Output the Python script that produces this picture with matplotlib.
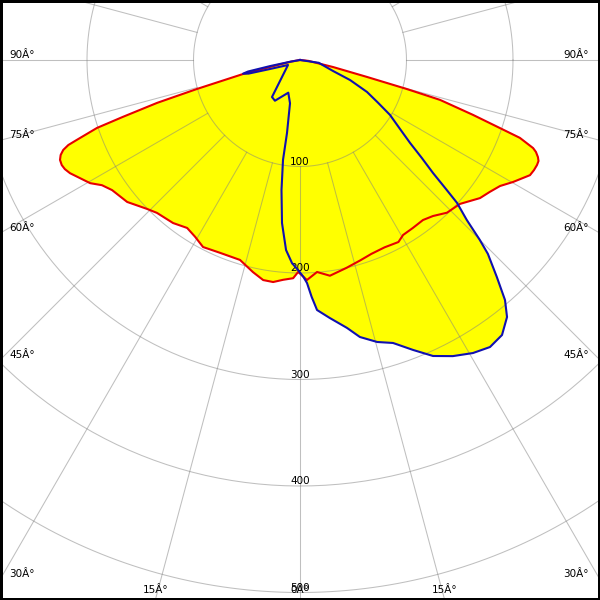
import matplotlib
matplotlib.use("Agg")
import matplotlib.pyplot as plt
import numpy as np

# red plane: gamma (deg, negative = left side) and intensity (cd/klm)
red_gamma = [-90, -80, -77, -76.2, -74.3, -73.3, -72.2, -71.5, -70.3, -69.85,
             -69.2, -68.35, -67.4, -66.2, -65.1, -63.8, -59.6, -57.7, -55.3,
             -50.6, -45.8, -43.1, -37.9, -33.9, -30.7, -27.4, -22.5, -16.7,
             -12.5, -9.5, -6.9, -4.4, -1.8, -0.5, 1.8, 4.6, 7.9, 12.6, 16.7,
             20.2, 24.3, 28.4, 30.5, 33.9, 37.55, 40.45, 43.9, 48.0, 52.5,
             55.2, 57.8, 60.2, 63.4, 64.8, 66.1, 67.05, 67.8, 68.7, 69.3,
             70.5, 71.2, 72.4, 74.1, 74.8, 75.8, 78, 84, 90]
red_cd = [0, 8, 29, 55, 100.5, 140, 174.6, 201, 222.7, 231.7,
          237.8, 241.8, 244.1, 244.5, 243.4, 240.7, 228.5, 220, 214.6,
          210, 200.5, 196.6, 194, 190, 193, 197.8, 196, 196,
          204, 209.5, 210, 207, 205, 199, 206.7, 199.7, 204.5, 200, 196.5,
          194, 193, 194.3, 190.7, 190, 189.5, 192.5, 199, 202, 213,
          217, 222, 230.5, 241.5, 242.8, 243.4, 243.2, 241.3, 237.8, 234,
          219, 198.3, 170.4, 136.7, 104, 65, 31.7, 8, 0]

# blue plane
blue_gamma = [-90, -80, -78.5, -77.5, -76.5, -75.2, -73.3, -67.4, -37.1,
              -31.6, -19.7, -13.0, -10.1, -9.65, -8.1, -6.3, -4.2, -2.26,
              -0.55, 0.87, 1.8, 2.8, 3.9, 6.6, 9.95, 12.2, 15.3, 18.2, 21.3,
              24.2, 27.3, 30.55, 33.5, 36.3, 38.85, 40.5, 42.2, 44.1,
              45, 46.2, 47.7, 48.6, 49.65, 51.2, 53, 55.4, 58.6, 61.3, 64.5,
              68.2, 71.6, 81.5, 90]
blue_cd = [0, 9.5, 28.7, 50, 55, 50, 29.4, 12.2, 43.6,
           44.9, 32.6, 41.7, 69.6, 95.2, 123.3, 154, 178.9, 190.8,
           197.2, 203.5, 209.5, 222.5, 235.3, 243.9, 255.4, 266.1, 274.5,
           279.7, 292.2, 304.7, 312.9, 319.5, 323.2, 320.4, 309.9, 296.4,
           275.2, 253.5, 238.5, 216.9, 199.4, 181.6, 163.9, 146.7,
           129.4, 114.1, 99, 83.5, 69.7, 50.6, 32.7, 17.8, 0]

ring_values = [100, 200, 300, 400, 500]
angle_ticks = [0, 15, 30, 45, 60, 75, 90]

PX = 1.065          # picture pixels per cd
CX, CY = 300, 60    # pole in picture pixels


def to_xy(gamma, cd):
    g = np.radians(np.asarray(gamma, dtype=float))
    cd = np.asarray(cd, dtype=float)
    return cd * np.sin(g), -cd * np.cos(g)


def px(x, y):
    """Picture pixel position -> data coordinates."""
    return (x - CX) / PX, (CY - y) / PX


def draw_grid(ax):
    t = np.linspace(0, 2 * np.pi, 400)
    for r in ring_values + [600]:
        ax.plot(r * np.cos(t), r * np.sin(t), color="#808080", alpha=0.5,
                lw=0.75, zorder=2)
    for a in range(0, 360, 15):
        x, y = to_xy([a, a], [100, 900])
        ax.plot(x, y, color="#808080", alpha=0.5, lw=0.75, zorder=2)


def draw_labels(ax):
    style = dict(fontsize=7.5, family="DejaVu Sans", color="black",
                 zorder=2.5, va="baseline")
    for r in ring_values:
        ax.text(*px(290, CY + r * PX - 1.5), str(r), ha="left", **style)
    for a in angle_ticks:
        for side in (-1, 1):
            if a == 0 and side == 1:
                continue
            s, c = np.sin(np.radians(a)), np.cos(np.radians(a))
            y_hit = CY + 300 * c / s if s > 0 else 1e9
            text = f"{a}Â°"
            if y_hit <= 597:
                if side < 0:
                    ax.text(*px(9, y_hit - 2.5), text, ha="left", **style)
                else:
                    ax.text(*px(589, y_hit - 2.5), text, ha="right", **style)
            else:
                x_hit = CX + side * 540 * s / c
                ax.text(*px(x_hit, 593), text, ha="center", **style)


fig = plt.figure(figsize=(6, 6), dpi=100)
ax = fig.add_axes([0, 0, 1, 1])
x0, y0 = px(0, 600)
x1, y1 = px(600, 0)
ax.set_xlim(x0, x1)
ax.set_ylim(y0, y1)
ax.set_xticks([])
ax.set_yticks([])
for sp in ax.spines.values():
    sp.set_linewidth(3.6)
    sp.set_color("black")

rx, ry = to_xy(red_gamma, red_cd)
bx, by = to_xy(blue_gamma, blue_cd)
ax.fill(rx, ry, color="#ffff00", lw=0, zorder=1)
ax.fill(bx, by, color="#ffff00", lw=0, zorder=1)

draw_grid(ax)
draw_labels(ax)

ax.plot(rx, ry, color="#e80000", lw=1.5, zorder=3, solid_joinstyle="round")
ax.plot(bx, by, color="#1010b0", lw=1.5, zorder=3, solid_joinstyle="round")

fig.savefig("out.png", dpi=100)
